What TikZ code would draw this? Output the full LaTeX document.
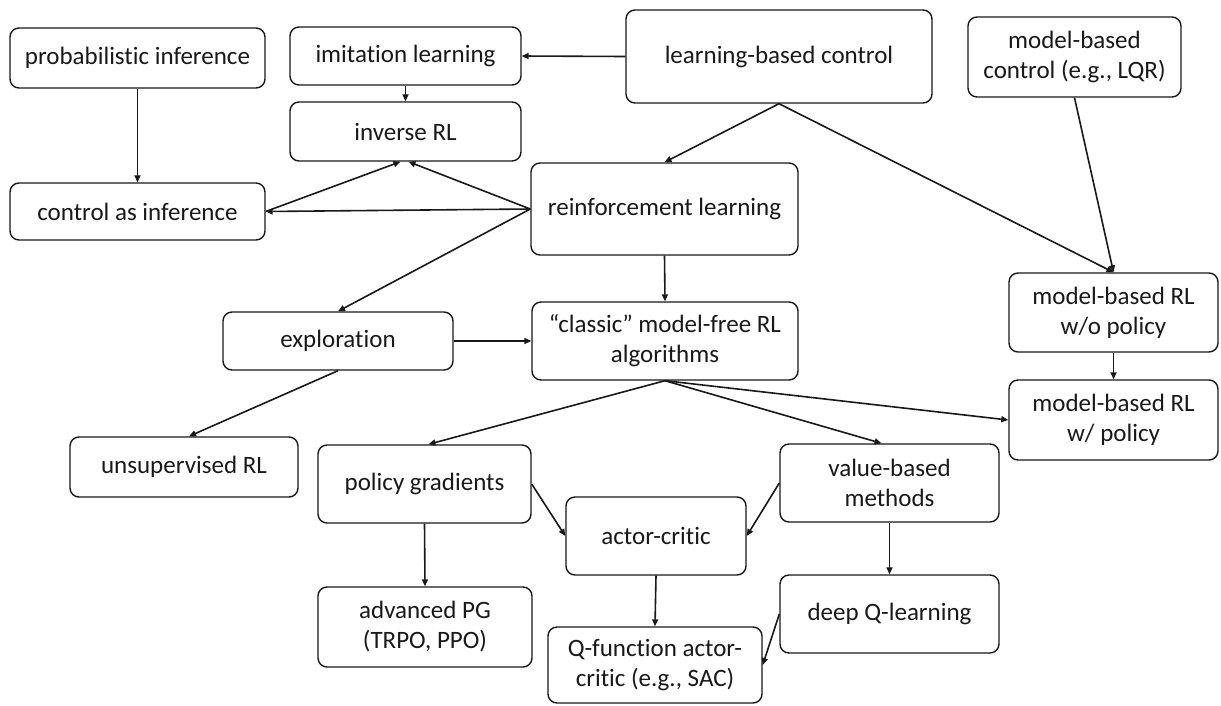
\documentclass[tikz,border=0pt]{standalone}
\usepackage{fontspec}
\setmainfont{Carlito}[Ligatures={NoCommon,NoContextual}]
\usetikzlibrary{arrows.meta}
\begin{document}
\begin{tikzpicture}[x=1pt,y=-1pt,
  box/.style={draw=black!90, line width=1.4pt, rounded corners=9pt, align=center, inner sep=2pt,
    font=\fontsize{25}{30}\selectfont, text=black!90},
  conn/.style={line width=1.6pt, draw=black!90, -{Triangle[length=7pt,width=6pt]}}]
\useasboundingbox (0,0) rectangle (1221,705);
\fill[white] (0,0) rectangle (1221,705);
% nodes
\node[box, minimum width=255pt, minimum height=60pt] (probinf) at (137.5,58) {probabilistic inference};
\node[box, minimum width=231pt, minimum height=58pt] (imit) at (405.5,56) {imitation learning};
\node[box, minimum width=231pt, minimum height=59pt] (invrl) at (405.5,131.5) {inverse RL};
\node[box, minimum width=306pt, minimum height=93pt] (lbc) at (779,56.5) {learning-based control};
\node[box, minimum width=213pt, minimum height=80pt] (mbc) at (1074.5,57) {model-based\\control (e.g., LQR)};
\node[box, minimum width=255pt, minimum height=57pt] (cai) at (137.5,211.5) {control as inference};
\node[box, minimum width=267pt, minimum height=92pt] (rl) at (664.5,209) {reinforcement learning};
\node[box, minimum width=230pt, minimum height=58pt] (expl) at (338,341) {exploration};
\node[box, minimum width=266pt, minimum height=78pt] (classic) at (665,341) {“classic” model-free RL\\algorithms};
\node[box, minimum width=209pt, minimum height=79pt] (mbwo) at (1113.5,312.5) {model-based RL\\w/o policy};
\node[box, minimum width=209pt, minimum height=80pt] (mbw) at (1113.5,420) {model-based RL\\w/ policy};
\node[box, minimum width=228pt, minimum height=60pt] (unsup) at (184,467) {unsupervised RL};
\node[box, minimum width=213pt, minimum height=78pt] (pg) at (424.5,484) {policy gradients};
\node[box, minimum width=219pt, minimum height=78pt] (vb) at (889.5,483) {value-based\\methods};
\node[box, minimum width=180pt, minimum height=78pt] (ac) at (656,536) {actor-critic};
\node[box, minimum width=214pt, minimum height=80pt] (apg) at (425,627) {advanced PG\\(TRPO, PPO)};
\node[box, minimum width=219pt, minimum height=78pt] (dq) at (889.5,614) {deep Q-learning};
\node[box, minimum width=214pt, minimum height=76pt] (qf) at (655,665) {Q-function actor-\\critic (e.g., SAC)};
% connectors
\draw[conn] (lbc.west) -- (imit.east);
\draw[conn] (imit.south) -- (invrl.north);
\draw[conn] (probinf.south) -- (cai.north);
\draw[conn] (rl.west) -- (cai.east);
\draw[conn] (cai.east) -- ([xshift=-5pt]invrl.south);
\draw[conn] (rl.west) -- ([xshift=3pt]invrl.south);
\draw[conn] (rl.west) -- (expl.north);
\draw[conn] (lbc.south) -- (rl.north);
\draw[conn] (lbc.south) -- (mbwo.north);
\draw[conn] (mbc.south) -- (mbwo.north);
\draw[conn] (rl.south) -- (classic.north);
\draw[conn] (expl.east) -- (classic.west);
\draw[conn] (expl.south) -- ([xshift=5pt]unsup.north);
\draw[conn] (classic.south) -- ([xshift=4pt]pg.north);
\draw[conn] (classic.south) -- ([xshift=-8pt]vb.north);
\draw[conn] (classic.south) -- (mbw.west);
\draw[conn] (mbwo.south) -- (mbw.north);
\draw[conn] (pg.east) -- (ac.west);
\draw[conn] (vb.west) -- (ac.east);
\draw[conn] (pg.south) -- (apg.north);
\draw[conn] (vb.south) -- (dq.north);
\draw[conn] (ac.south) -- (qf.north);
\draw[conn] (dq.west) -- (qf.east);
\end{tikzpicture}
\end{document}
